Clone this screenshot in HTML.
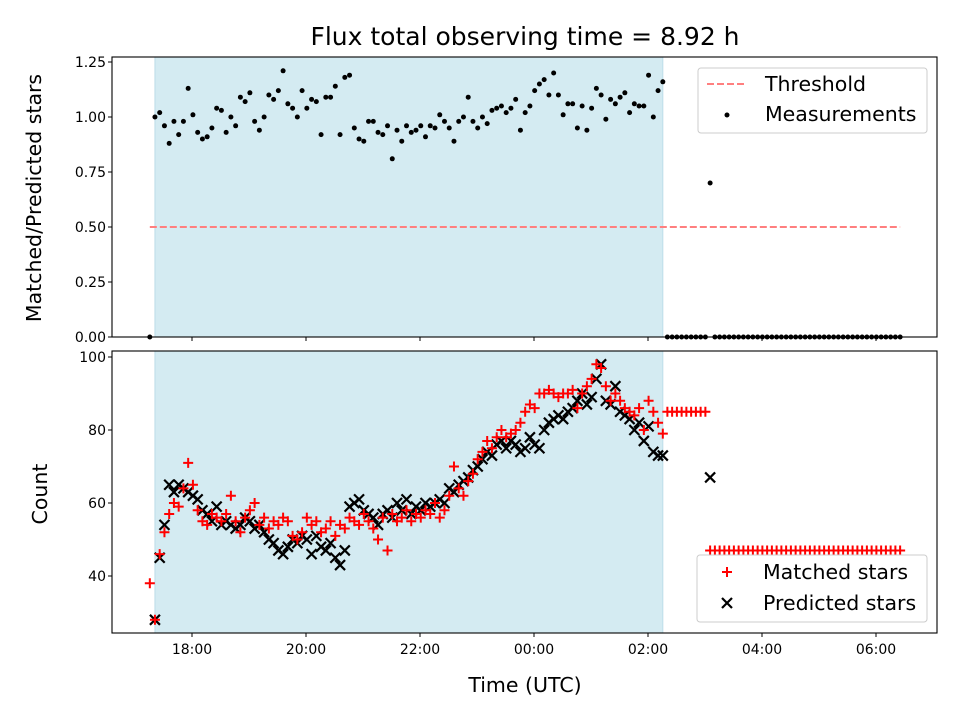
<!DOCTYPE html>
<html><head><meta charset="utf-8"><style>
html,body{margin:0;padding:0;background:#fff;}
svg{display:block;font-family:"DejaVu Sans","Liberation Sans",sans-serif;}
</style></head><body>
<svg id="chart" width="960" height="720" viewBox="0 0 960 720"></svg>
<script>
// ---- data ----
const tickLabels = ["18:00","20:00","22:00","00:00","02:00","04:00","06:00"];
const tickHours = [18,20,22,24,26,28,30];
const ratioTopTicks = [0,0.25,0.5,0.75,1.0,1.25];
const countTicks = [40,60,80,100];
const shadeStart = 17.35, shadeEnd = 26.26;
const threshold = 0.5;
const firstTime = 17.26;
const firstRatio = 0;
const firstMatched = 38;
const ratioVals = [1.00,1.02,0.96,0.88,0.98,0.92,0.98,1.13,1.01,0.93,0.90,0.91,0.95,1.04,1.03,0.93,1.00,0.96,1.09,1.07,1.11,0.98,0.94,1.00,1.10,1.08,1.12,1.21,1.06,1.04,1.00,1.12,1.04,1.08,1.07,0.92,1.09,1.09,1.14,0.92,1.18,1.19,0.95,0.90,0.89,0.98,0.98,0.93,0.92,0.96,0.81,0.94,0.89,0.96,
0.93,0.94,0.96,0.91,0.96,0.95,1.01,0.98,0.95,0.89,0.98,1.00,1.09,0.98,0.95,1.00,0.97,1.03,1.04,1.05,1.02,1.04,1.08,0.94,1.02,1.05,1.12,1.15,1.17,1.10,1.20,1.10,1.01,1.06,1.06,0.95,1.05,0.94,1.04,1.13,1.10,0.99,1.08,1.06,1.09,1.11,1.02,1.06,1.05,1.05,1.19,1.00,1.12,1.16];
const predictedVals = [28,45,54,65,63,65,64,63,62,61,58,57,55,59,54,55,54,53,54,56,55,53,54,52,50,49,47,46,48,50,49,51,50,46,51,48,47,49,45,43,47,59,60,61,58,57,56,54,57,58,56,60,58,61,57,59,58,60,59,60,61,60,64,63,65,66,67,69,70,72,74,73,76,77,75,77,76,74,75,78,76,75,80,82,83,84,83,85,86,88,90,87,89,94,98,88,87,92,85,84,83,80,82,77,81,74,73,73];
const matchedVals = [28,46,52,57,60,59,64,71,65,58,55,54,57,56,55,57,62,55,52,56,58,60,54,56,53,55,54,56,55,51,50,52,56,54,55,52,53,55,51,54,53,56,55,54,57,55,53,50,56,47,57,55,56,58,55,57,56,58,57,60,56,58,62,70,64,62,66,68,72,74,77,75,78,80,78,79,80,82,85,87,86,90,90,91,90,89,90,90,91,86,90,92,94,98,97,92,88,90,88,86,85,84,86,80,88,85,82,79];
const afterRatio = [0,0,0,0,0,0,0,0,0,0.70,0,0,0,0,0,0,0,0,0,0,0,0,0,0,0,0,0,0,0,0,0,0,0,0,0,0,0,0,0,0,0,0,0,0,0,0,0,0,0,0];
const afterMatched = [85,85,85,85,85,85,85,85,85,47,47,47,47,47,47,47,47,47,47,47,47,47,47,47,47,47,47,47,47,47,47,47,47,47,47,47,47,47,47,47,47,47,47,47,47,47,47,47,47,47];
const afterPredicted = [null,null,null,null,null,null,null,null,null,67,null,null,null,null,null,null,null,null,null,null,null,null,null,null,null,null,null,null,null,null,null,null,null,null,null,null,null,null,null,null,null,null,null,null,null,null,null,null,null,null];
const afterStart = 26.34, afterStep = 1/12;

// ---- axes ----
const L=112,R=937, T1=57,B1=337, T2=351,B2=633;
const xs = h => 192 + (h-18)*57;
const yTop = v => 337 - v*220;
const yBot = v => 503 - (v-60)*3.65;
const NS="http://www.w3.org/2000/svg";
const svg=document.getElementById('chart');
function mk(tag,attrs,parent){const e=document.createElementNS(NS,tag);for(const k in attrs)e.setAttribute(k,attrs[k]);(parent||svg).appendChild(e);return e;}
function txt(s,attrs,parent){const e=mk('text',attrs,parent);e.textContent=s;return e;}

// shading
[[T1,B1,'shade-top'],[T2,B2,'shade-bottom']].forEach(([t,b,n])=>{
  const r=mk('rect',{x:xs(shadeStart),y:t,width:xs(shadeEnd)-xs(shadeStart),height:b-t,fill:'#d4ebf2',stroke:'#bcdde8','stroke-width':1});
  
  
});

// threshold
const th=mk('line',{x1:xs(firstTime),x2:xs(afterStart+49*afterStep),y1:yTop(threshold),y2:yTop(threshold),stroke:'#ff7f7f','stroke-width':2,'stroke-dasharray':'7,3'});



// measurement points
const gM=mk('g',{});


const step=(shadeEnd-shadeStart)/(ratioVals.length-1);
function dot(h,v){const c=mk('circle',{cx:xs(h),cy:yTop(v),r:2.5,fill:'#000'},gM);
  
  }
dot(firstTime,firstRatio);
ratioVals.forEach((v,i)=>dot(shadeStart+i*step,v));
afterRatio.forEach((v,i)=>dot(afterStart+i*afterStep,v));

// count markers
const gP=mk('g',{});


const gR=mk('g',{});


function plus(h,v){const x=xs(h),y=yBot(v);
  const p=mk('path',{d:`M${x-5} ${y}H${x+5}M${x} ${y-5}V${y+5}`,stroke:'#ff0000','stroke-width':2,fill:'none'},gR);
  
  }
function cross(h,v){const x=xs(h),y=yBot(v);
  const p=mk('path',{d:`M${x-5} ${y-5}L${x+5} ${y+5}M${x-5} ${y+5}L${x+5} ${y-5}`,stroke:'#000','stroke-width':2.2,fill:'none'},gP);
  
  }
const cstep=(shadeEnd-shadeStart)/(predictedVals.length-1);
plus(firstTime,firstMatched);
matchedVals.forEach((v,i)=>plus(shadeStart+i*cstep,v));
afterMatched.forEach((v,i)=>plus(afterStart+i*afterStep,v));
predictedVals.forEach((v,i)=>cross(shadeStart+i*cstep,v));
afterPredicted.forEach((v,i)=>{if(v!==null)cross(afterStart+i*afterStep,v);});
svg.appendChild(gR);

// frames
[[T1,B1,'top-axes-frame'],[T2,B2,'bottom-axes-frame']].forEach(([t,b,n])=>{
  const r=mk('rect',{x:L,y:t,width:R-L,height:b-t,fill:'none',stroke:'#000','stroke-width':1.1});
  
  
});
// x ticks
tickHours.forEach((h,i)=>{
  const x=xs(h);
  mk('line',{x1:x,x2:x,y1:B1,y2:B1+4,stroke:'#000','stroke-width':1});
  mk('line',{x1:x,x2:x,y1:B2,y2:B2+4,stroke:'#000','stroke-width':1});
  const t=txt(tickLabels[i],{x:x,y:B2+21,'font-size':14,'text-anchor':'middle',fill:'#000'});
  
  
});
ratioTopTicks.forEach(v=>{
  const y=yTop(v);
  mk('line',{x1:L-4,x2:L,y1:y,y2:y,stroke:'#000','stroke-width':1});
  const t=txt(v.toFixed(2),{x:L-6,y:y+5,'font-size':14,'text-anchor':'end',fill:'#000'});
  
  
});
countTicks.forEach(v=>{
  const y=yBot(v);
  mk('line',{x1:L-4,x2:L,y1:y,y2:y,stroke:'#000','stroke-width':1});
  const t=txt(String(v),{x:L-6,y:y+5,'font-size':14,'text-anchor':'end',fill:'#000'});
  
  
});
</script>
<div style="position:absolute;left:0;top:0;width:960px;height:720px;pointer-events:none;">
<svg width="960" height="720" style="font-family:'DejaVu Sans','Liberation Sans',sans-serif;">
  <text x="525" y="45" font-size="25" text-anchor="middle">Flux total observing time = 8.92 h</text>
  <text x="41" y="198" font-size="20.5" text-anchor="middle" transform="rotate(-90 41 198)">Matched/Predicted stars</text>
  <text x="47" y="494" font-size="20.5" text-anchor="middle" transform="rotate(-90 47 494)">Count</text>
  <text x="525" y="692" font-size="20.5" text-anchor="middle">Time (UTC)</text>
  <g>
    <rect x="698" y="68" width="229" height="65" rx="3" fill="#fff" fill-opacity="0.85" stroke="#ccc"/>
    <line x1="707" y1="84" x2="747" y2="84" stroke="#ff7f7f" stroke-width="2" stroke-dasharray="7,3"/>
    <text x="765" y="91" font-size="20.5">Threshold</text>
    <circle cx="727" cy="115" r="2.5" fill="#000"/>
    <text x="765" y="121" font-size="20.5">Measurements</text>
  </g>
  <g>
    <rect x="697" y="555" width="230" height="67" rx="3" fill="#fff" fill-opacity="0.85" stroke="#ccc"/>
    <path d="M722 572H732M727 567V577" stroke="#f00" stroke-width="2"/>
    <text x="763" y="579" font-size="20.5">Matched stars</text>
    <path d="M722 598L732 608M722 608L732 598" stroke="#000" stroke-width="2.2"/>
    <text x="763" y="610" font-size="20.5">Predicted stars</text>
  </g>
</svg>
</div>
</body></html>
